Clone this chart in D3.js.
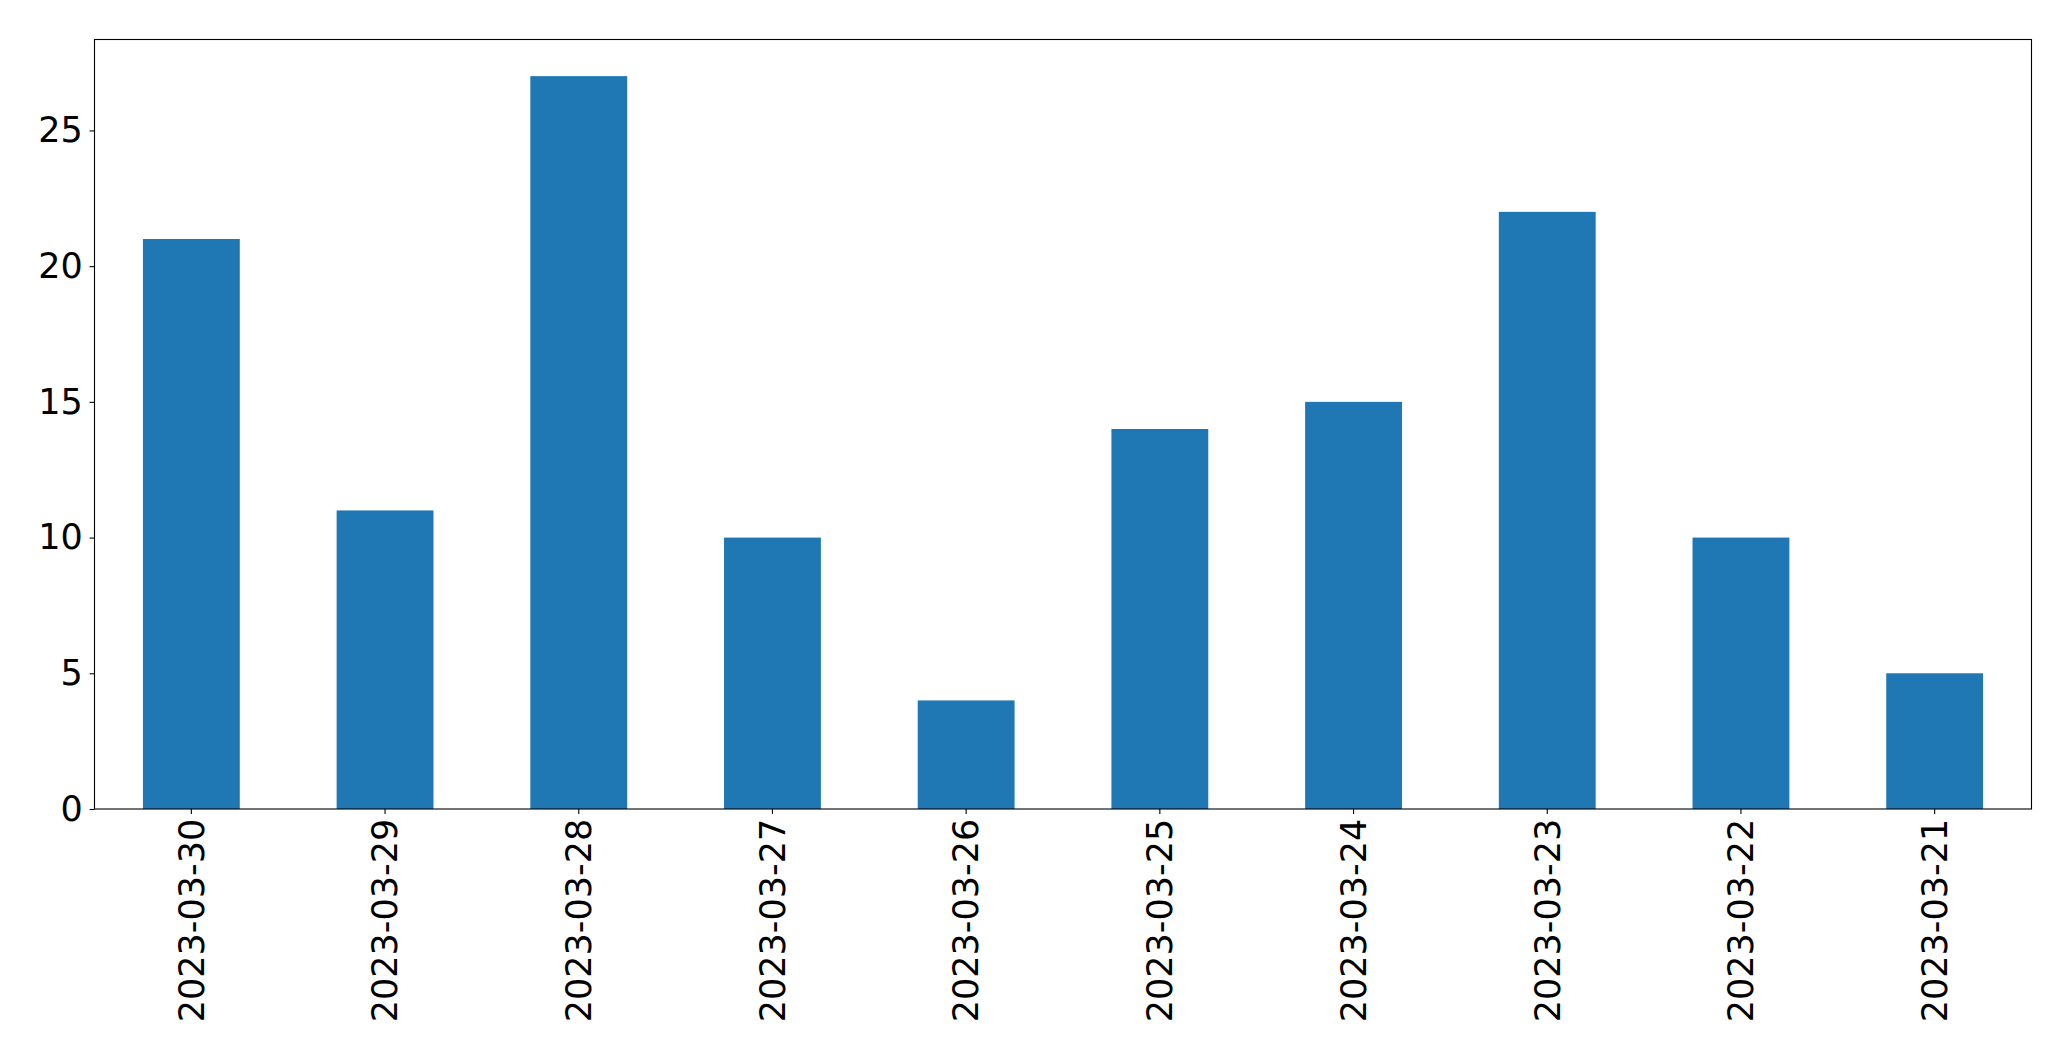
<!DOCTYPE html>
<html>
<head>
<meta charset="utf-8">
<script src="https://cdn.jsdelivr.net/npm/d3@7"></script>
<style>
  body { margin: 0; background: #fff; }
  svg { display: block; }
</style>
</head>
<body>
<div id="chart"></div>
<script>
const dates = ['2023-03-30', '2023-03-29', '2023-03-28', '2023-03-27', '2023-03-26',
               '2023-03-25', '2023-03-24', '2023-03-23', '2023-03-22', '2023-03-21'];
const counts = [21, 11, 27, 10, 4, 14, 15, 22, 10, 5];
const yTicks = [0, 5, 10, 15, 20, 25];

const width = 2071;
const height = 1061;
const margin = { top: 39.5, right: 39.5, bottom: 252, left: 94.5 };
const fontSize = 35;
const tickLen = 4.9;
const tickPad = 4.9;

const svg = d3.select('#chart')
    .append('svg')
    .attr('width', width)
    .attr('height', height)
    .attr('viewBox', [0, 0, width, height]);

const x = d3.scaleBand()
    .domain(dates)
    .range([margin.left, width - margin.right])
    .paddingInner(0.5)
    .paddingOuter(0.25);

const y = d3.scaleLinear()
    .domain([0, d3.max(counts) * 1.05])
    .range([height - margin.bottom, margin.top]);

// bars
svg.append('g')
    .selectAll('rect')
    .data(dates)
    .enter().append('rect')
    .attr('x', d => x(d))
    .attr('y', (d, i) => y(counts[i]))
    .attr('width', x.bandwidth())
    .attr('height', (d, i) => y(0) - y(counts[i]))
    .attr('fill', '#1f77b4');

// x axis
const xAxis = svg.append('g')
    .attr('transform', `translate(0,${height - margin.bottom})`)
    .call(d3.axisBottom(x).tickSize(tickLen).tickPadding(tickPad));
xAxis.select('.domain').remove();
xAxis.selectAll('line').attr('stroke', '#000').attr('stroke-width', 1.1);
xAxis.selectAll('text')
    .attr('transform', 'rotate(-90)')
    .attr('x', -(tickLen + tickPad))
    .attr('y', 0)
    .attr('dy', '0.35em')
    .attr('text-anchor', 'end')
    .attr('fill', '#000')
    .style('font-family', 'DejaVu Sans')
    .style('font-size', fontSize + 'px');

// y axis
const yAxis = svg.append('g')
    .attr('transform', `translate(${margin.left},0)`)
    .call(d3.axisLeft(y).tickValues(yTicks).tickSize(tickLen).tickPadding(tickPad + 2));
yAxis.select('.domain').remove();
yAxis.selectAll('line').attr('stroke', '#000').attr('stroke-width', 1.1);
yAxis.selectAll('text')
    .attr('fill', '#000')
    .style('font-family', 'DejaVu Sans')
    .style('font-size', fontSize + 'px');

// frame
svg.append('rect')
    .attr('x', margin.left)
    .attr('y', margin.top)
    .attr('width', width - margin.left - margin.right)
    .attr('height', height - margin.top - margin.bottom)
    .attr('fill', 'none')
    .attr('stroke', '#000')
    .attr('stroke-width', 1.1);
</script>
</body>
</html>
